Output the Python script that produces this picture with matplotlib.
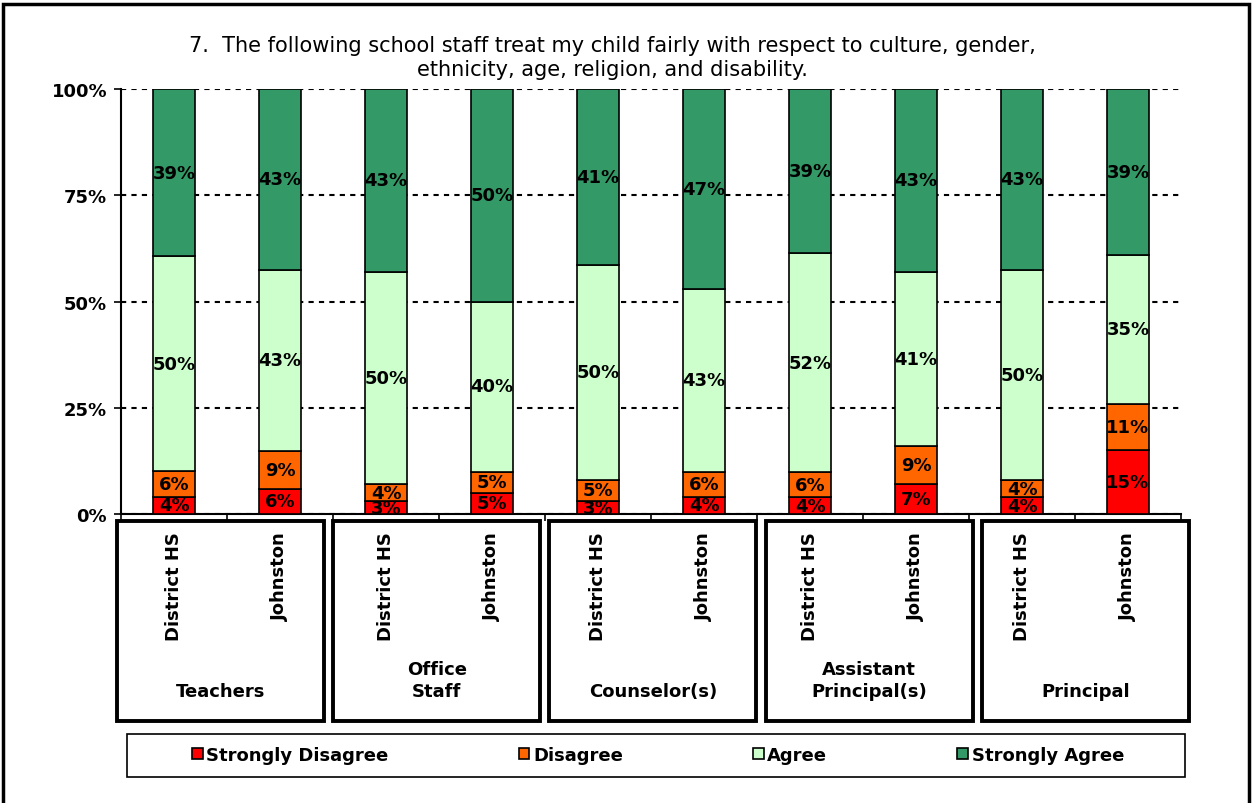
import numpy as np
import matplotlib
matplotlib.use('Agg')
import matplotlib.pyplot as plt
from matplotlib.patches import Rectangle

plt.rcParams['font.family'] = ['DejaVu Sans']

title = '7.  The following school staff treat my child fairly with respect to culture, gender,\nethnicity, age, religion, and disability.'
groups = ['Teachers', 'Office\nStaff', 'Counselor(s)', 'Assistant\nPrincipal(s)', 'Principal']
schools = ['District HS', 'Johnston']
series = ['Strongly Disagree', 'Disagree', 'Agree', 'Strongly Agree']
colors = ['#FF0000', '#FF6600', '#CCFFCC', '#339966']

strongly_disagree = [4, 6, 3, 5, 3, 4, 4, 7, 4, 15]
disagree = [6, 9, 4, 5, 5, 6, 6, 9, 4, 11]
agree = [50, 43, 50, 40, 50, 43, 52, 41, 50, 35]
strongly_agree = [39, 43, 43, 50, 41, 47, 39, 43, 43, 39]

W, H = 1252, 804
fig = plt.figure(figsize=(W / 100, H / 100), dpi=100)


def fx(px):
    return px / W


def fy(py):
    return 1 - py / H


# outer frame (bottom edge falls outside the picture, as in the original)
fig.patches.append(Rectangle((fx(3), fy(812)), fx(1246), 807 / H, transform=fig.transFigure,
                             fill=False, ec='black', lw=2.5))

ax = fig.add_axes([fx(121), fy(515), fx(1060), 425 / H])

raw = np.array([strongly_disagree, disagree, agree, strongly_agree], dtype=float)
pct = raw / raw.sum(axis=0) * 100
x = np.arange(len(strongly_disagree))
bottom = np.zeros(len(x))
for i in range(4):
    ax.bar(x, pct[i], 0.4, bottom=bottom, color=colors[i], edgecolor='black', linewidth=1.2, zorder=3)
    for j in range(len(x)):
        ax.text(x[j], bottom[j] + pct[i][j] / 2, '%d%%' % raw[i][j], ha='center', va='center',
                fontsize=13, fontweight='bold', zorder=4)
    bottom += pct[i]

ax.set_xlim(-0.5, len(x) - 0.5)
ax.set_ylim(0, 100)
ax.set_yticks([0, 25, 50, 75, 100])
ax.set_yticklabels(['0%', '25%', '50%', '75%', '100%'], fontsize=13, fontweight='bold')
ax.yaxis.grid(True, linestyle=(0, (2.5, 2.5)), color='black', lw=1.5)
ax.set_axisbelow(True)
ax.set_xticks(np.arange(-0.5, len(x), 1))
ax.set_xticklabels([])
ax.tick_params(axis='x', direction='out', length=5, width=1.2)
ax.tick_params(axis='y', direction='out', length=5, width=1.2, pad=5)
for s in ['top', 'right']:
    ax.spines[s].set_visible(False)
ax.spines['left'].set_linewidth(1.5)
ax.spines['bottom'].set_linewidth(1.5)

fig.text(fx(612), fy(58), title, ha='center', va='center', fontsize=15, linespacing=1.2)

# category boxes
for g in range(len(groups)):
    left = 117 + g * 216.2
    fig.patches.append(Rectangle((fx(left), fy(722)), fx(207), 200 / H, transform=fig.transFigure,
                                 fill=False, ec='black', lw=2.8))
    fig.text(fx(left + 103.5), fy(697), groups[g], ha='center', va='baseline', fontsize=13,
             fontweight='bold', linespacing=1.25)
    for k in range(2):
        cx = 174 + (2 * g + k) * 106
        fig.text(fx(cx), fy(532), schools[k], rotation=90, ha='center', va='top', fontsize=13,
                 fontweight='bold')

# legend
fig.patches.append(Rectangle((fx(127), fy(778)), fx(1058), 43 / H, transform=fig.transFigure,
                             fill=False, ec='black', lw=1.2))
handles = [Rectangle((0, 0), 1, 1, fc=c, ec='black', lw=1.2) for c in colors]
leg = fig.legend(handles, series, loc='center', ncol=4, bbox_to_anchor=(fx(658), fy(756)),
                 prop={'weight': 'bold', 'size': 13}, frameon=False,
                 handlelength=0.6, handleheight=0.6, handletextpad=0.2, columnspacing=7.2,
                 borderaxespad=0, borderpad=0)

fig.savefig('out.png', dpi=100)
